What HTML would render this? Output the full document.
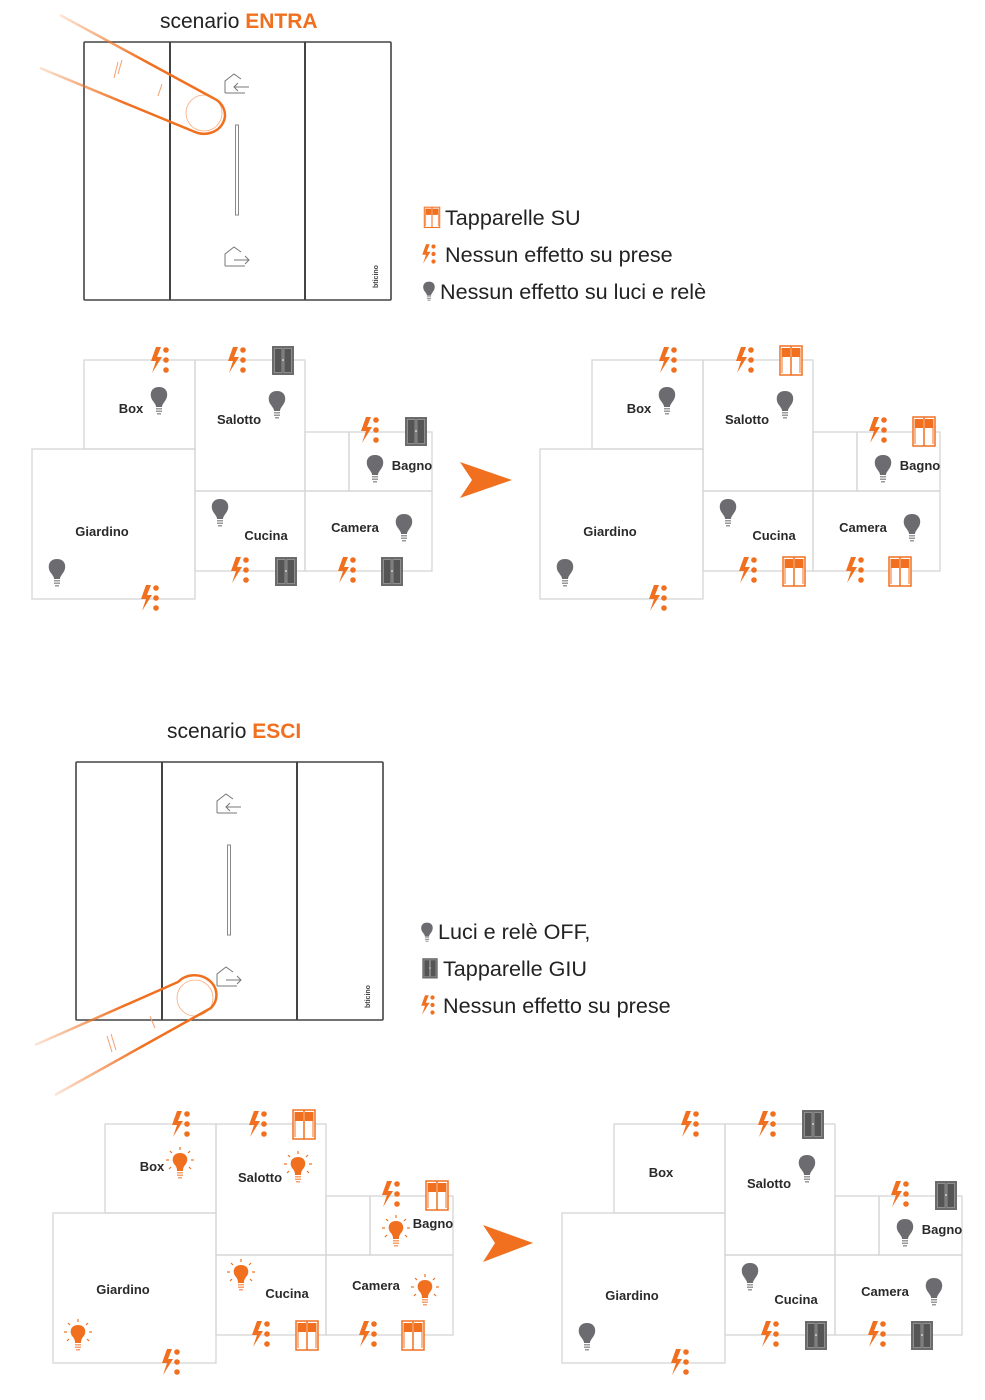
<!DOCTYPE html>
<html><head><meta charset="utf-8"><style>
body{margin:0;background:#fff;}
svg{display:block}
text{font-family:"Liberation Sans",sans-serif;}
.lab{font-size:13px;font-weight:bold;fill:#2a2a2a;font-family:"Liberation Sans Narrow","Liberation Sans",sans-serif;}
.leg{font-size:21.6px;fill:#222;}
.room{fill:none;stroke:#d6d6d6;stroke-width:1.3}
</style></head><body>
<svg width="985" height="1400" viewBox="0 0 985 1400" xmlns="http://www.w3.org/2000/svg">
<defs>
<linearGradient id="fadeA" gradientUnits="userSpaceOnUse" x1="40" y1="40" x2="200" y2="110"><stop offset="0" stop-color="#f07020" stop-opacity="0.1"/><stop offset="0.6" stop-color="#f07020" stop-opacity="1"/></linearGradient>
<linearGradient id="fadeB" gradientUnits="userSpaceOnUse" x1="35" y1="1070" x2="200" y2="1000"><stop offset="0" stop-color="#f07020" stop-opacity="0.1"/><stop offset="0.6" stop-color="#f07020" stop-opacity="1"/></linearGradient>
<g id="plug">
 <path d="M-4,-13 L-9,1 L-4,1 L-8,13 L2,-3 L-3,-3 L1,-13 Z" fill="#f07020"/>
 <circle cx="6" cy="-10" r="2.8" fill="#f07020"/><circle cx="6" cy="0" r="2.8" fill="#f07020"/><circle cx="6" cy="10" r="2.8" fill="#f07020"/>
</g>
<g id="shutC">
 <rect x="-11" y="-14" width="22" height="29" fill="#6b6b6b"/>
 <rect x="-8.5" y="-11.5" width="7.5" height="24" fill="#555" stroke="#999" stroke-width="0.8"/>
 <rect x="1" y="-11.5" width="7.5" height="24" fill="#555" stroke="#999" stroke-width="0.8"/>
 <circle cx="0" cy="0" r="0.8" fill="#fff"/>
</g>
<g id="shutO">
 <rect x="-11" y="-14" width="22" height="29" fill="#fff" stroke="#f07020" stroke-width="1.5"/>
 <rect x="-9" y="-12" width="8" height="9" fill="#f07020"/>
 <rect x="1" y="-12" width="8" height="9" fill="#f07020"/>
 <line x1="0" y1="-14" x2="0" y2="15" stroke="#f07020" stroke-width="1.5"/>
 <line x1="-9" y1="-12" x2="-9" y2="13" stroke="#f07020" stroke-width="1"/>
 <line x1="9" y1="-12" x2="9" y2="13" stroke="#f07020" stroke-width="1"/>
</g>
<g id="bulbG">
 <path d="M0,-12 C-9,-12 -10,-3 -6,2 C-4,5 -3,6 -3,8 L3,8 C3,6 4,5 6,2 C10,-3 9,-12 0,-12 Z" fill="#6b6b70"/>
 <rect x="-3" y="9" width="6" height="1.5" fill="#999"/><rect x="-3" y="11.5" width="6" height="1.5" fill="#999"/><rect x="-2" y="14" width="4" height="1.5" fill="#999"/>
</g>
<g id="bulbO">
 <path d="M0,-10 C-8,-10 -9,-2 -5,2 C-3,5 -3,6 -3,8 L3,8 C3,6 3,5 5,2 C9,-2 8,-10 0,-10 Z" fill="#f07020"/>
 <rect x="-3" y="9" width="6" height="1.5" fill="#f7a070"/><rect x="-3" y="11.5" width="6" height="1.5" fill="#f7a070"/><rect x="-2" y="14" width="4" height="1.5" fill="#f7a070"/>
 <g stroke="#f07020" stroke-width="1.2"><line x1="0" y1="-13" x2="0" y2="-16"/><line x1="-8" y1="-10" x2="-10" y2="-12"/><line x1="8" y1="-10" x2="10" y2="-12"/><line x1="-11" y1="-3" x2="-14" y2="-3"/><line x1="11" y1="-3" x2="14" y2="-3"/><line x1="-9" y1="4" x2="-11" y2="6"/><line x1="9" y1="4" x2="11" y2="6"/></g>
</g>
<g id="rooms">
 <rect class="room" x="84" y="360" width="111" height="89"/>
 <rect class="room" x="195" y="360" width="110" height="131"/>
 <rect class="room" x="305" y="432" width="44" height="59"/>
 <rect class="room" x="349" y="432" width="83" height="59"/>
 <rect class="room" x="32" y="449" width="163" height="150"/>
 <rect class="room" x="195" y="491" width="110" height="80"/>
 <rect class="room" x="305" y="491" width="127" height="80"/>
</g>
<g id="plugs">
 <use href="#plug" x="160" y="360"/><use href="#plug" x="237" y="360"/><use href="#plug" x="370" y="430"/>
 <use href="#plug" x="240" y="570"/><use href="#plug" x="347" y="570"/><use href="#plug" x="150" y="598"/>
</g>
<g id="lbls">
 <text class="lab" x="131" y="413" text-anchor="middle">Box</text>
 <text class="lab" x="239" y="424" text-anchor="middle">Salotto</text>
 <text class="lab" x="412" y="470" text-anchor="middle">Bagno</text>
 <text class="lab" x="102" y="536" text-anchor="middle">Giardino</text>
 <text class="lab" x="266" y="540" text-anchor="middle">Cucina</text>
 <text class="lab" x="355" y="532" text-anchor="middle">Camera</text>
</g>
<g id="houseIn"><path d="M-12,8 L-12,-4 L-3,-11 L4,-6" fill="none" stroke="#777" stroke-width="1"/><path d="M-12,8 L8,8" stroke="#777" stroke-width="1"/><path d="M12,2 L-3,2 M1,-2 L-3,2 L1,6" fill="none" stroke="#777" stroke-width="1"/></g>
<g id="houseOut"><path d="M-12,8 L-12,-4 L-3,-11 L4,-6" fill="none" stroke="#777" stroke-width="1"/><path d="M-12,8 L8,8" stroke="#777" stroke-width="1"/><path d="M-3,2 L12,2 M8,-2 L12,2 L8,6" fill="none" stroke="#777" stroke-width="1"/></g>
</defs>

<!-- Scenario ENTRA -->
<text x="160" y="28" font-size="21" fill="#222">scenario <tspan fill="#f07020" font-weight="bold">ENTRA</tspan></text>
<g fill="#fff" stroke="#444" stroke-width="1.6">
 <rect x="84" y="42" width="307" height="258" rx="1"/>
 <line x1="170" y1="42" x2="170" y2="300" stroke-width="2"/><line x1="305" y1="42" x2="305" y2="300" stroke-width="2"/>
</g>
<use href="#houseIn" x="237" y="85"/>
<rect x="235.5" y="125" width="3" height="90" fill="none" stroke="#888" stroke-width="1"/>
<use href="#houseOut" x="237" y="258"/>
<text transform="translate(378,288) rotate(-90)" font-size="7" font-weight="bold" fill="#444">bticino</text>
<path d="M60,15 L213,98 A20,18 0 0 1 195,132 L40,68" fill="none" stroke="url(#fadeA)" stroke-width="2.5"/>
<ellipse cx="204" cy="113" rx="18" ry="18" fill="none" stroke="#f07020" stroke-width="0.8" opacity="0.6"/>
<path d="M118,62 L114,78 M122,60 L118,74 M162,84 L158,96" stroke="#f4a070" stroke-width="1"/>

<use href="#shutO" transform="translate(432,217) scale(0.7)"/>
<text class="leg" x="445" y="225">Tapparelle SU</text>
<use href="#plug" transform="translate(429,254) scale(0.75)"/>
<text class="leg" x="445" y="262">Nessun effetto su prese</text>
<use href="#bulbG" transform="translate(429,290) scale(0.7)"/>
<text class="leg" x="440" y="299">Nessun effetto su luci e relè</text>

<!-- Plan 1 -->
<g>
 <use href="#rooms"/><use href="#plugs"/><use href="#lbls"/>
 <use href="#shutC" x="283" y="360"/><use href="#shutC" x="416" y="431"/><use href="#shutC" x="286" y="571"/><use href="#shutC" x="392" y="571"/>
 <use href="#bulbG" x="159" y="399"/><use href="#bulbG" x="277" y="403"/><use href="#bulbG" x="375" y="467"/><use href="#bulbG" x="220" y="511"/><use href="#bulbG" x="404" y="526"/><use href="#bulbG" x="57" y="571"/>
</g>
<polygon points="460,462 512,480 460,498 472,480" fill="#f07020"/>
<!-- Plan 2 -->
<g transform="translate(508,0)">
 <use href="#rooms"/><use href="#plugs"/><use href="#lbls"/>
 <use href="#shutO" x="283" y="360"/><use href="#shutO" x="416" y="431"/><use href="#shutO" x="286" y="571"/><use href="#shutO" x="392" y="571"/>
 <use href="#bulbG" x="159" y="399"/><use href="#bulbG" x="277" y="403"/><use href="#bulbG" x="375" y="467"/><use href="#bulbG" x="220" y="511"/><use href="#bulbG" x="404" y="526"/><use href="#bulbG" x="57" y="571"/>
</g>

<!-- Scenario ESCI -->
<text x="167" y="738" font-size="21" fill="#222">scenario <tspan fill="#f07020" font-weight="bold">ESCI</tspan></text>
<g fill="#fff" stroke="#444" stroke-width="1.6">
 <rect x="76" y="762" width="307" height="258" rx="1"/>
 <line x1="162" y1="762" x2="162" y2="1020" stroke-width="2"/><line x1="297" y1="762" x2="297" y2="1020" stroke-width="2"/>
</g>
<use href="#houseIn" x="229" y="805"/>
<rect x="227.5" y="845" width="3" height="90" fill="none" stroke="#888" stroke-width="1"/>
<use href="#houseOut" x="229" y="978"/>
<text transform="translate(370,1008) rotate(-90)" font-size="7" font-weight="bold" fill="#444">bticino</text>
<path d="M35,1045 L178,982 A20,18 0 0 1 211,1008 L55,1095" fill="none" stroke="url(#fadeB)" stroke-width="2.5"/>
<ellipse cx="195" cy="998" rx="18" ry="18" fill="none" stroke="#f07020" stroke-width="0.8" opacity="0.6"/>
<path d="M107,1036 L112,1052 M111,1034 L116,1050 M150,1016 L155,1028" stroke="#f4a070" stroke-width="1"/>

<use href="#bulbG" transform="translate(427,931) scale(0.7)"/>
<text class="leg" x="438" y="939">Luci e relè OFF,</text>
<use href="#shutC" transform="translate(430,968) scale(0.7)"/>
<text class="leg" x="443" y="976">Tapparelle GIU</text>
<use href="#plug" transform="translate(428,1005) scale(0.75)"/>
<text class="leg" x="443" y="1013">Nessun effetto su prese</text>

<!-- Plan 3 -->
<g transform="translate(21,764)">
 <use href="#rooms"/><use href="#plugs"/><use href="#lbls" transform="translate(0,-6)"/>
 <use href="#shutO" x="283" y="360"/><use href="#shutO" x="416" y="431"/><use href="#shutO" x="286" y="571"/><use href="#shutO" x="392" y="571"/>
 <use href="#bulbO" x="159" y="399"/><use href="#bulbO" x="277" y="403"/><use href="#bulbO" x="375" y="467"/><use href="#bulbO" x="220" y="511"/><use href="#bulbO" x="404" y="526"/><use href="#bulbO" x="57" y="571"/>
</g>
<polygon points="483,1225 533,1243 483,1262 495,1243" fill="#f07020"/>
<!-- Plan 4 -->
<g transform="translate(530,764)">
 <use href="#rooms"/><use href="#plugs"/><use href="#lbls"/>
 <use href="#shutC" x="283" y="360"/><use href="#shutC" x="416" y="431"/><use href="#shutC" x="286" y="571"/><use href="#shutC" x="392" y="571"/>
 <use href="#bulbG" x="277" y="403"/><use href="#bulbG" x="375" y="467"/><use href="#bulbG" x="220" y="511"/><use href="#bulbG" x="404" y="526"/><use href="#bulbG" x="57" y="571"/>
</g>
</svg>
</body></html>
